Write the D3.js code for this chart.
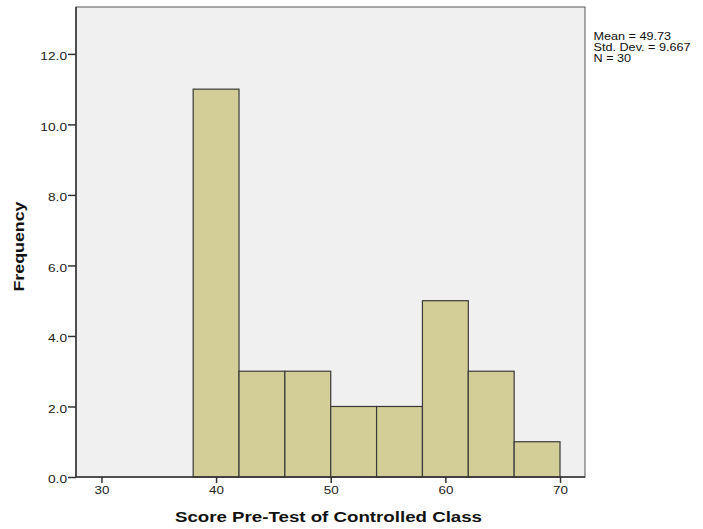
<!DOCTYPE html>
<html><head><meta charset="utf-8">
<script src="https://cdn.jsdelivr.net/npm/d3@7"></script>
<style>body{margin:0;background:#fff;} text{font-family:"Liberation Sans",Arial,sans-serif;}</style>
</head><body><svg id="c" width="703" height="529"></svg>
<script>
const binStarts = [38, 42, 46, 50, 54, 58, 62, 66];
const binWidth = 4;
const counts = [11, 3, 3, 2, 2, 5, 3, 1];
const xTicks = [30, 40, 50, 60, 70];
const yTicks = [0, 2, 4, 6, 8, 10, 12];
const stats = ["Mean = 49.73", "Std. Dev. = 9.667", "N = 30"];
const xTitle = "Score Pre-Test of Controlled Class";
const yTitle = "Frequency";

const svg = d3.select("#c");
const L = 76, R = 585, T = 7, B = 477;
const x = d3.scaleLinear().domain([27.78, 72.18]).range([L, R]);
const y = d3.scaleLinear().domain([0, 13.33]).range([B, T]);

function stretch(sel, f) {
  sel.each(function() {
    const w = this.getComputedTextLength();
    d3.select(this).attr("textLength", w * f).attr("lengthAdjust", "spacingAndGlyphs");
  });
}

svg.append("rect").attr("x", L).attr("y", T).attr("width", R - L).attr("height", B - T)
  .attr("fill", "#f0f0f0").attr("stroke", "#555").attr("stroke-width", 1);

svg.append("g").selectAll("rect").data(binStarts).join("rect")
  .attr("x", d => x(d)).attr("y", (d, i) => y(counts[i]))
  .attr("width", d => x(d + binWidth) - x(d)).attr("height", (d, i) => y(0) - y(counts[i]))
  .attr("fill", "#d3ce98").attr("stroke", "#3a3a3a").attr("stroke-width", 1.2);

const ya = svg.append("g").attr("transform", `translate(${L},0)`)
  .call(d3.axisLeft(y).tickValues(yTicks).tickFormat(d3.format(".1f")).tickSize(8).tickPadding(1));
const xa = svg.append("g").attr("transform", `translate(0,${B})`)
  .call(d3.axisBottom(x).tickValues(xTicks).tickFormat(d3.format("d")).tickSize(6).tickPadding(3));
[ya, xa].forEach(g => {
  g.select(".domain").attr("stroke", "#333").attr("stroke-width", 1.5);
  g.selectAll(".tick line").attr("stroke", "#333").attr("stroke-width", 1.5);
  g.selectAll("text").attr("font-size", 11.8).attr("fill", "#222").attr("font-family", "Liberation Sans, Arial, sans-serif");
});
ya.selectAll(".tick text").attr("dy", "0.5em");
ya.select(".domain").attr("d", `M0,${B}V${T}`);
xa.select(".domain").attr("d", `M${L},0H${R}`);
stretch(ya.selectAll(".tick text"), 1.16);
stretch(xa.selectAll(".tick text"), 1.14);

svg.append("text").attr("x", 328.5).attr("y", 521.5).attr("text-anchor", "middle")
  .attr("font-size", 14).attr("font-weight", "bold").attr("fill", "#111")
  .attr("textLength", 307).attr("lengthAdjust", "spacingAndGlyphs").text(xTitle);
svg.append("text").attr("transform", "translate(24,246.5) rotate(-90)").attr("text-anchor", "middle")
  .attr("font-size", 14).attr("font-weight", "bold").attr("fill", "#111")
  .attr("textLength", 90).attr("lengthAdjust", "spacingAndGlyphs").text(yTitle);

const leg = svg.append("g").selectAll("text").data(stats).join("text")
  .attr("x", 593.5).attr("y", (d, i) => 39.5 + i * 11)
  .attr("font-size", 10.8).attr("fill", "#111").text(d => d);
stretch(leg, 1.17);
</script></body></html>
